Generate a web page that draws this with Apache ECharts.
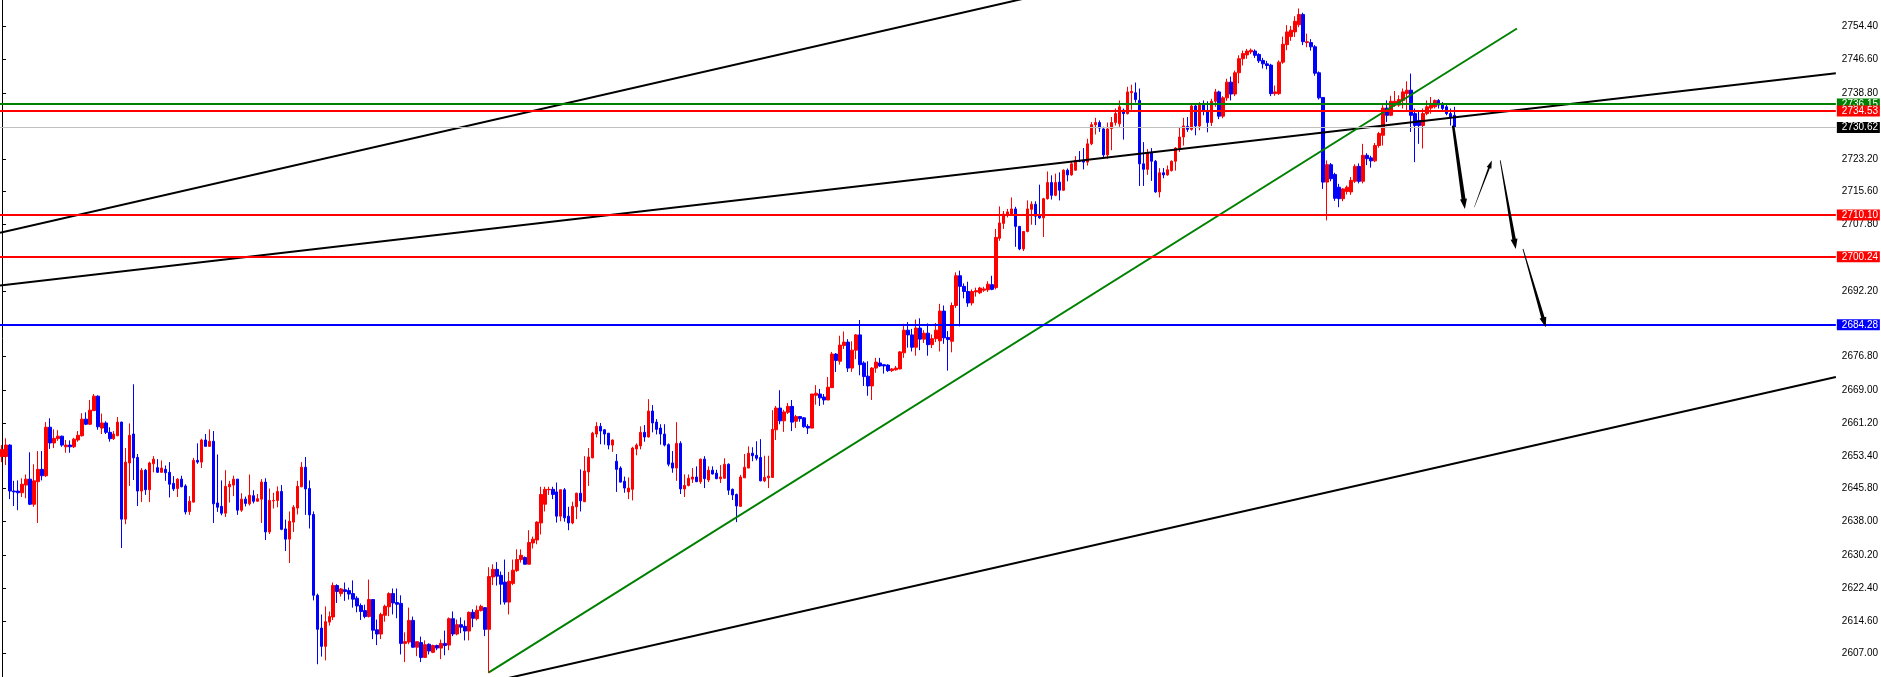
<!DOCTYPE html>
<html>
<head>
<meta charset="utf-8">
<script src="https://cdn.jsdelivr.net/npm/echarts@6/dist/echarts.min.js"></script>
<style>html,body{margin:0;padding:0;background:#fff;}#c{width:1881px;height:677px;}</style>
</head>
<body>
<div id="c"></div>
<script>
// ---- candles: [open, close, low, high], one row per bar ----
const candlesA = [
[2653.3,2655.0,2652.0,2656.0],[2653.3,2656.0,2651.3,2657.6],[2656.0,2645.2,2643.3,2656.2],[2645.2,2645.0,2641.7,2647.6],
[2645.2,2644.8,2640.7,2647.7],[2644.8,2646.8,2643.8,2648.2],[2646.6,2648.0,2643.5,2649.1],[2648.0,2642.1,2641.9,2654.3],
[2642.1,2647.6,2641.5,2651.5],[2647.4,2650.3,2637.7,2654.6],[2650.3,2648.8,2647.7,2654.6],[2648.8,2660.2,2648.5,2661.4],
[2660.2,2656.5,2655.1,2662.3],[2656.5,2657.6,2655.3,2659.7],[2657.5,2658.1,2657.0,2659.5],[2658.1,2656.0,2655.6,2658.2],
[2655.6,2656.0,2654.2,2657.2],[2656.0,2655.6,2654.2,2657.1],[2655.6,2657.4,2655.3,2657.7],[2657.2,2658.3,2656.8,2659.3],
[2658.2,2662.1,2658.0,2663.5],[2662.1,2660.9,2660.7,2663.7],[2660.9,2664.2,2660.7,2666.6],[2664.1,2667.5,2664.0,2668.0],
[2667.5,2660.3,2659.6,2667.7],[2660.0,2661.2,2658.6,2663.4],[2661.2,2659.0,2658.6,2661.6],[2659.0,2657.5,2656.8,2660.2],
[2657.5,2658.6,2657.2,2659.3],[2658.2,2661.4,2658.1,2662.6],[2661.4,2638.6,2631.8,2661.5],[2638.6,2652.0,2637.4,2655.3],
[2651.8,2658.3,2646.4,2661.1],[2658.6,2653.0,2647.8,2670.3],[2653.1,2645.2,2641.7,2653.9],[2645.2,2650.1,2642.6,2650.6],
[2650.1,2645.5,2644.3,2650.4],[2645.5,2651.8,2642.6,2652.1],[2651.6,2652.7,2649.6,2653.4],[2650.7,2649.6,2649.5,2652.7],
[2649.6,2650.6,2649.5,2652.4],[2650.3,2649.5,2647.6,2651.2],[2649.6,2646.8,2643.7,2652.0],[2647.0,2645.7,2645.2,2648.7],
[2645.8,2648.0,2643.8,2648.2],[2648.0,2646.2,2646.1,2648.8],[2646.4,2640.3,2639.7,2646.8],[2640.4,2642.8,2639.6,2644.0],
[2642.6,2652.4,2642.5,2653.0],[2652.4,2652.0,2651.6,2656.4],[2652.0,2657.2,2650.6,2657.5],[2657.2,2655.7,2655.7,2658.6],
[2655.7,2656.9,2655.6,2659.7],[2656.9,2642.2,2637.7,2659.3],[2642.4,2641.4,2640.3,2653.8],[2641.6,2640.0,2639.5,2647.7],
[2640.0,2646.3,2639.1,2650.1],[2646.2,2646.8,2642.5,2647.6],[2646.6,2648.0,2644.0,2648.8],[2648.0,2640.7,2639.6,2648.0],
[2640.7,2643.3,2640.3,2644.7],[2643.3,2642.3,2641.6,2643.9],[2642.2,2644.2,2641.8,2649.1],[2644.1,2642.8,2642.3,2645.4],
[2642.8,2643.4,2642.7,2644.5],[2643.3,2647.3,2637.7,2648.0],[2647.3,2635.6,2633.7,2648.2],[2635.6,2643.0,2635.1,2645.8],
[2642.9,2643.0,2641.1,2644.8],[2643.0,2645.1,2641.4,2646.3],[2645.1,2636.2,2636.0,2646.6],[2636.3,2633.9,2631.1,2638.5],
[2633.9,2638.1,2628.3,2640.4],[2637.9,2641.4,2635.6,2641.9],[2641.2,2646.3,2639.7,2647.6],[2646.2,2650.8,2646.1,2652.0],
[2650.8,2645.7,2639.6,2653.2],[2645.8,2639.6,2636.4,2647.7],[2639.7,2620.7,2619.5,2640.4],[2620.7,2612.7,2604.5,2621.1],
[2613.0,2608.7,2606.3,2616.2],[2608.7,2614.5,2605.4,2618.1],[2614.4,2615.7,2613.6,2616.9],[2615.6,2623.0,2614.9,2623.7],
[2623.0,2621.6,2618.9,2623.3],[2621.1,2622.2,2620.4,2622.4],[2622.0,2621.6,2619.4,2623.7],[2621.8,2621.0,2619.7,2622.5],
[2621.1,2619.8,2617.8,2624.2],[2620.0,2618.2,2616.7,2620.5],[2618.3,2616.9,2614.9,2618.8],[2617.1,2615.7,2615.3,2618.5],
[2615.7,2619.7,2615.5,2624.4],[2619.7,2612.5,2610.4,2619.7],[2612.6,2611.6,2609.0,2615.0],[2611.6,2616.2,2610.4,2616.6],
[2616.0,2618.1,2614.5,2618.5],[2618.0,2621.1,2615.8,2621.4],[2621.1,2618.9,2616.2,2622.3],[2619.0,2618.6,2615.3,2622.3]
];
const candlesB = [
[2618.8,2609.4,2606.8,2620.7],[2609.4,2609.8,2605.0,2612.0],[2609.7,2614.8,2609.2,2617.8],[2614.8,2608.5,2608.4,2615.7],
[2608.5,2609.8,2606.4,2609.8],[2609.6,2606.1,2605.0,2611.0],[2606.1,2609.1,2606.1,2610.1],[2609.2,2607.6,2606.8,2609.4],
[2607.3,2608.9,2607.1,2609.1],[2608.9,2608.3,2607.8,2609.1],[2608.3,2609.4,2605.7,2610.3],[2609.4,2608.9,2606.6,2612.4],
[2609.0,2615.2,2607.8,2615.5],[2615.2,2611.6,2611.1,2616.9],[2611.6,2613.8,2611.3,2615.0],[2613.8,2613.2,2611.8,2615.5],
[2613.4,2612.3,2610.1,2614.8],[2612.3,2616.7,2610.1,2616.9],[2616.7,2615.3,2613.2,2617.4],[2615.2,2617.2,2614.8,2618.3],
[2617.1,2618.1,2616.9,2618.5],[2617.8,2612.7,2611.1,2617.9],[2612.7,2625.1,2602.4,2627.3],[2625.0,2626.8,2623.1,2628.0],
[2626.8,2625.2,2623.0,2628.5],[2625.4,2623.3,2618.5,2626.3],[2623.8,2619.1,2618.5,2629.1],[2619.1,2624.0,2616.2,2626.2],
[2623.5,2626.6,2623.1,2629.1],[2626.5,2629.1,2626.2,2631.5],[2629.1,2630.1,2628.4,2631.5],[2629.6,2628.0,2628.0,2629.8],
[2628.0,2633.1,2628.0,2636.0],[2633.0,2633.9,2631.7,2634.5],[2633.7,2637.9,2632.7,2638.1],[2637.7,2644.4,2635.0,2646.2],
[2642.1,2645.6,2640.4,2646.2],[2645.5,2645.6,2644.3,2646.2],[2645.6,2644.4,2643.3,2646.2],[2645.0,2639.3,2637.8,2647.2],
[2639.3,2645.5,2638.1,2645.6],[2645.5,2638.9,2638.0,2645.9],[2639.3,2637.7,2636.0,2641.5],[2637.7,2641.6,2637.4,2642.7],
[2641.5,2644.7,2638.6,2644.8],[2644.7,2642.9,2640.4,2650.3],[2642.7,2649.9,2642.6,2653.4],[2649.7,2653.2,2646.4,2655.3],
[2653.0,2658.8,2652.9,2659.1],[2658.6,2660.4,2657.8,2661.4],[2660.4,2659.3,2656.2,2661.2],[2659.6,2658.6,2656.1,2659.7],
[2658.8,2656.0,2655.0,2658.8],[2656.0,2657.2,2654.4,2657.3],[2652.2,2650.3,2645.0,2653.9],[2650.6,2647.3,2647.2,2651.0],
[2647.5,2645.9,2644.8,2648.6],[2645.0,2645.9,2643.3,2648.4],[2645.6,2655.3,2643.0,2655.6],[2655.1,2656.0,2653.6,2656.4],
[2655.8,2659.0,2655.0,2660.4],[2659.0,2657.9,2656.8,2660.7],[2657.9,2664.0,2657.8,2666.8],[2664.0,2661.2,2659.0,2665.4],
[2661.4,2659.7,2658.5,2662.1],[2660.0,2658.6,2656.1,2660.9],[2658.6,2656.0,2655.7,2660.9],[2656.1,2651.5,2651.0,2656.4],
[2651.8,2650.6,2649.5,2654.6],[2650.6,2656.4,2647.6,2661.4],[2656.4,2645.7,2644.5,2656.9],[2645.7,2646.5,2643.8,2649.1],
[2646.5,2648.2,2646.3,2649.1],[2648.0,2648.5,2647.1,2650.6],[2648.5,2647.4,2647.3,2651.0],[2647.4,2652.7,2646.9,2652.8],
[2652.7,2648.1,2645.9,2653.4],[2647.8,2650.1,2647.3,2651.0],[2650.1,2649.2,2649.1,2651.0],[2649.4,2648.1,2648.0,2650.2],
[2648.1,2648.5,2647.1,2651.3],[2648.2,2651.5,2648.1,2652.9],[2651.5,2645.4,2644.3,2651.7],[2645.6,2644.3,2643.1,2645.8],
[2644.4,2641.7,2637.9,2644.6],[2641.6,2648.5,2641.5,2649.0],[2648.3,2650.8,2648.3,2653.9],[2650.6,2654.1,2650.6,2655.7],
[2654.1,2653.5,2652.2,2655.5],[2653.6,2652.9,2652.4,2656.9],[2653.1,2647.6,2647.5,2657.4],[2647.6,2648.4,2647.3,2653.5],
[2648.3,2648.7,2645.9,2653.5],[2648.4,2659.7,2648.4,2664.2],[2659.6,2664.7,2657.2,2665.2],[2664.7,2661.7,2660.9,2668.9],
[2661.7,2663.8,2659.1,2664.3],[2663.7,2665.1,2663.3,2665.9],[2665.1,2661.4,2659.3,2666.6],[2661.6,2662.7,2660.0,2663.1]
];
const candlesC = [
[2662.7,2662.2,2661.5,2662.8],[2662.4,2660.3,2660.1,2662.6],[2660.4,2660.0,2658.6,2660.9],[2660.0,2668.0,2660.0,2668.0],
[2667.7,2668.2,2665.5,2670.1],[2668.0,2667.1,2665.2,2669.2],[2667.3,2666.6,2665.5,2668.0],[2666.6,2669.6,2666.6,2672.0],
[2669.5,2677.4,2669.4,2677.9],[2677.4,2675.9,2673.2,2677.6],[2675.7,2679.5,2674.9,2681.7],[2679.4,2680.2,2678.6,2682.7],
[2680.2,2674.1,2673.2,2680.9],[2674.1,2678.3,2673.2,2680.4],[2678.3,2681.9,2676.2,2682.1],[2681.9,2674.9,2672.4,2685.4],
[2675.3,2672.1,2669.9,2675.7],[2672.2,2669.9,2667.6,2675.7],[2669.9,2674.1,2666.6,2674.3],[2674.1,2675.5,2673.0,2676.5],
[2675.3,2674.6,2674.4,2676.5],[2674.9,2674.6,2672.8,2675.0],[2674.8,2673.5,2673.2,2675.0],[2673.5,2673.9,2673.2,2674.1],
[2673.7,2674.1,2673.5,2674.6],[2673.9,2677.9,2673.8,2678.1],[2677.7,2683.0,2676.5,2684.5],[2683.0,2681.9,2678.9,2684.9],
[2681.9,2679.0,2678.0,2683.3],[2679.0,2683.5,2677.0,2685.5],[2683.5,2680.9,2678.3,2685.8],[2680.9,2682.3,2680.0,2683.0],
[2682.3,2679.6,2677.0,2684.6],[2679.6,2681.0,2678.8,2682.0],[2681.0,2683.0,2680.2,2684.7],[2680.5,2687.5,2678.0,2689.2],
[2687.5,2681.2,2679.8,2688.8],[2681.3,2680.8,2673.5,2682.8],[2680.4,2688.8,2677.8,2689.5],[2688.8,2695.8,2688.2,2696.6],
[2695.8,2693.3,2683.9,2697.0],[2693.3,2692.1,2690.5,2694.0],[2692.1,2689.4,2688.5,2694.4],[2689.4,2692.1,2688.8,2692.6],
[2692.0,2692.3,2690.9,2693.0],[2691.8,2692.9,2691.5,2693.2],[2692.4,2692.7,2692.0,2693.2],[2692.5,2693.8,2692.0,2694.5],
[2693.7,2692.6,2692.4,2695.8],[2693.0,2704.8,2692.6,2706.8],[2704.6,2708.2,2704.0,2712.1],[2708.1,2710.3,2706.8,2711.0],
[2710.1,2710.8,2709.5,2711.5],[2710.1,2711.5,2710.0,2714.2],[2711.5,2707.4,2702.6,2712.0],[2707.4,2702.1,2701.8,2707.5],
[2702.1,2706.2,2701.6,2706.3],[2706.2,2711.5,2706.0,2713.5],[2711.4,2712.6,2707.8,2713.3],[2712.6,2709.8,2707.7,2713.3],
[2710.0,2709.4,2709.2,2717.2],[2709.4,2713.9,2704.9,2714.1],[2713.9,2717.7,2713.7,2720.3],[2717.7,2714.7,2713.7,2719.4],
[2714.7,2717.7,2714.5,2719.8],[2717.8,2715.9,2713.5,2720.1],[2715.9,2720.6,2715.7,2720.8],[2720.6,2719.5,2718.0,2721.0],
[2719.5,2722.1,2719.3,2722.5],[2720.6,2722.9,2720.5,2723.9],[2722.9,2722.7,2722.5,2725.1],[2722.9,2722.5,2720.8,2725.8],
[2722.5,2726.8,2721.7,2728.0],[2726.8,2731.3,2726.5,2731.9],[2731.3,2731.8,2729.0,2732.9],[2731.8,2730.5,2729.6,2732.3],
[2730.3,2724.2,2723.6,2730.8],[2724.2,2730.3,2723.3,2731.8],[2730.4,2731.8,2725.3,2733.1],[2731.8,2733.9,2731.1,2735.1],
[2731.5,2735.5,2730.8,2737.0],[2734.7,2733.9,2727.8,2735.1],[2733.9,2739.0,2733.7,2740.2],[2738.8,2739.1,2734.8,2740.7],
[2738.8,2737.2,2736.5,2741.2],[2737.0,2722.1,2716.9,2739.8],[2722.1,2720.8,2716.9,2727.2],[2720.8,2724.7,2719.5,2725.6],
[2724.7,2722.7,2718.1,2725.8],[2722.7,2715.5,2715.3,2723.0],[2715.5,2720.0,2714.2,2721.1],[2720.0,2719.5,2718.7,2721.1],
[2719.5,2720.7,2719.3,2721.7],[2720.5,2722.7,2720.3,2722.9],[2722.7,2725.8,2720.5,2726.0],[2725.8,2728.4,2724.9,2730.7],
[2728.4,2731.0,2726.4,2732.9],[2730.9,2730.2,2729.6,2733.1],[2730.2,2735.7,2729.9,2736.0],[2735.7,2731.0,2728.8,2736.2]
];
const candlesD = [
[2731.0,2735.9,2730.0,2736.6],[2735.9,2734.4,2733.5,2737.0],[2734.4,2731.8,2729.5,2736.8],[2731.8,2736.8,2731.0,2737.4],
[2736.8,2739.0,2735.5,2739.7],[2739.0,2733.3,2732.6,2739.3],[2733.3,2737.6,2732.8,2738.0],[2737.6,2741.3,2736.9,2742.1],
[2741.3,2738.5,2737.0,2742.6],[2738.5,2743.5,2738.0,2744.0],[2743.5,2746.8,2741.0,2747.6],[2746.8,2748.0,2745.2,2748.7],
[2747.7,2748.6,2746.8,2749.1],[2748.4,2748.8,2747.9,2749.2],[2748.6,2747.6,2747.0,2749.0],[2747.8,2746.3,2745.8,2748.1],
[2746.4,2745.6,2744.5,2747.0],[2745.6,2745.2,2744.3,2746.3],[2745.3,2738.6,2738.0,2745.6],[2738.6,2739.0,2738.1,2740.5],
[2738.6,2746.0,2738.3,2746.4],[2746.0,2750.2,2745.6,2752.0],[2750.1,2753.1,2748.8,2754.7],[2752.0,2753.5,2751.0,2754.5],
[2753.1,2755.6,2751.9,2756.8],[2754.8,2757.2,2754.2,2758.6],[2757.2,2750.8,2750.0,2757.6],[2750.6,2750.8,2749.5,2752.7],
[2750.6,2749.6,2748.7,2751.4],[2749.6,2743.4,2742.8,2750.0],[2743.5,2737.6,2737.2,2743.8],[2737.7,2717.8,2716.2,2737.7],
[2717.8,2721.9,2708.8,2722.9],[2721.9,2718.6,2718.0,2722.3],[2719.6,2714.0,2713.4,2720.0],[2716.6,2713.9,2711.9,2717.4],
[2713.9,2716.2,2713.3,2716.4],[2715.6,2716.6,2714.9,2717.0],[2715.5,2718.2,2714.8,2719.0],[2718.0,2721.5,2717.6,2722.0],
[2721.5,2718.0,2717.5,2722.2],[2718.0,2724.1,2717.5,2726.8],[2724.1,2723.3,2721.8,2724.6],[2723.5,2722.8,2721.2,2724.0],
[2722.8,2726.4,2722.5,2727.0],[2726.4,2729.2,2725.9,2729.6],[2728.8,2735.2,2726.4,2735.9],[2735.2,2733.5,2731.9,2737.0],
[2733.5,2736.8,2733.3,2738.1],[2735.9,2736.8,2735.5,2739.2],[2735.9,2737.2,2735.5,2738.2],[2737.0,2739.0,2735.1,2739.8],
[2738.6,2739.4,2734.7,2741.5],[2739.4,2733.5,2729.6,2743.3],[2733.9,2731.1,2722.5,2735.1],[2732.3,2731.1,2726.8,2734.3],
[2731.1,2733.9,2725.7,2735.1],[2733.9,2735.5,2733.5,2737.0],[2735.2,2735.9,2733.9,2737.8],[2735.5,2737.0,2735.1,2737.2],
[2737.0,2735.9,2735.1,2737.3],[2736.2,2735.1,2734.4,2736.6],[2735.5,2733.9,2733.5,2735.9],[2733.9,2733.1,2731.1,2735.1],
[2733.5,2730.7,2730.7,2735.5]
];

// ---- price axis tick labels ----
const tickLabels = [2754.40, 2746.60, 2738.80, 2723.20, 2715.60, 2707.80, 2692.20, 2676.80,
  2669.00, 2661.20, 2653.40, 2645.80, 2638.00, 2630.20, 2622.40, 2614.60, 2607.00];

// ---- horizontal price levels ----
const levelPrices = [2736.15, 2734.53, 2730.62, 2710.10, 2700.24, 2684.28];
const levelColors = ['#008000', '#ff0000', '#c0c0c0', '#ff0000', '#ff0000', '#0000ff'];
const levelLabelBg = ['#008000', '#ff0000', '#000000', '#ff0000', '#ff0000', '#0000ff'];
const levelWidths = [2, 2, 1, 2, 2, 2];

// ---- trend lines: [[bar, price], [bar, price]] ----
const trendSteep = [[-0.5, 2705.9], [262, 2762.2]];
const trendMid = [[-0.5, 2693.5], [459.5, 2743.4]];
const trendLow = [[120, 2599.8], [459.5, 2672.0]];
const trendGreen = [[122, 2602.6], [379.6, 2753.9]];

// ---- forecast arrows: [fromBar, fromPrice, toBar, toPrice] ----
const arrows = [
  [363.6, 2731.1, 366.55, 2711.5],
  [368.9, 2711.9, 373.3, 2722.9],
  [375.4, 2722.9, 379.3, 2702.1],
  [381.1, 2702.1, 386.8, 2683.7]
];
const arrowStyles = [
  {w0: 2.5, w1: 4, head: 10, headW: 3.5},
  {w0: 0.4, w1: 1.8, head: 8, headW: 2.5},
  {w0: 0.8, w1: 3.5, head: 10, headW: 3.5},
  {w0: 0.8, w1: 3.5, head: 10, headW: 3.5}
];

const SLOTS = 460;
const categories = Array.from({length: SLOTS}, (_, i) => String(i));
const candles = candlesA.concat(candlesB, candlesC, candlesD);

const chart = echarts.init(document.getElementById('c'), null, {renderer: 'canvas'});

function renderArrow(params, api) {
  const a = api.coord([api.value(0), api.value(1)]);
  const b = api.coord([api.value(2), api.value(3)]);
  const st = arrowStyles[params.dataIndex];
  const dx = b[0] - a[0], dy = b[1] - a[1];
  const len = Math.hypot(dx, dy);
  const ux = dx / len, uy = dy / len;
  const nx = -uy, ny = ux;
  const bx = b[0] - ux * st.head, by = b[1] - uy * st.head;
  const pts = [
    [a[0] + nx * st.w0 / 2, a[1] + ny * st.w0 / 2],
    [bx + nx * st.w1 / 2, by + ny * st.w1 / 2],
    [bx + nx * st.headW, by + ny * st.headW],
    [b[0], b[1]],
    [bx - nx * st.headW, by - ny * st.headW],
    [bx - nx * st.w1 / 2, by - ny * st.w1 / 2],
    [a[0] - nx * st.w0 / 2, a[1] - ny * st.w0 / 2]
  ];
  return {type: 'polygon', shape: {points: pts}, style: {fill: '#000'}};
}

const trendSeries = (data, color) => ({
  type: 'line', xAxisIndex: 1, yAxisIndex: 0, data: data,
  symbol: 'none', silent: true, clip: true, z: 5,
  lineStyle: {color: color, width: 2}
});

chart.setOption({
  animation: false,
  backgroundColor: '#ffffff',
  textStyle: {fontFamily: 'Liberation Sans'},
  grid: {left: -2.5, right: 43.5, top: 0, bottom: 0, containLabel: false},
  xAxis: [
    {type: 'category', data: categories, boundaryGap: true, show: false},
    {type: 'value', min: -0.5, max: SLOTS - 0.5, show: false}
  ],
  yAxis: {
    type: 'value', position: 'right', min: 2601.5, max: 2760.6, scale: true,
    splitLine: {show: false},
    axisLine: {show: true, lineStyle: {color: '#000', width: 1}},
    axisTick: {show: true, length: 4, inside: false, lineStyle: {color: '#000'}, customValues: tickLabels},
    axisLabel: {
      customValues: tickLabels, margin: 6, color: '#000', fontSize: 10,
      fontFamily: 'Liberation Sans',
      formatter: v => v.toFixed(2)
    }
  },
  series: [
    {
      type: 'candlestick', xAxisIndex: 0, yAxisIndex: 0, data: candles,
      barWidth: 3, z: 2,
      itemStyle: {color: '#ff0000', color0: '#0000ff', borderColor: '#ff0000', borderColor0: '#0000ff', borderWidth: 1},
      markLine: {
        silent: true, symbol: ['none', 'none'], animation: false, z: 6,
        data: levelPrices.map((p, i) => ({
          yAxis: p,
          lineStyle: {color: levelColors[i], width: levelWidths[i], type: 'solid'},
          label: {
            show: true, position: 'end', distance: 1,
            formatter: p.toFixed(2), color: '#fff', fontSize: 10, fontFamily: 'Liberation Sans',
            backgroundColor: levelLabelBg[i], padding: [0, 0, 0, 5], width: 38, lineHeight: 11
          }
        }))
      }
    },
    trendSeries(trendSteep, '#000'),
    trendSeries(trendMid, '#000'),
    trendSeries(trendLow, '#000'),
    trendSeries(trendGreen, '#008000'),
    {
      type: 'custom', xAxisIndex: 1, yAxisIndex: 0, data: arrows,
      encode: {x: [0, 2], y: [1, 3]}, renderItem: renderArrow, silent: true, z: 7, clip: false
    }
  ]
});
</script>
</body>
</html>
